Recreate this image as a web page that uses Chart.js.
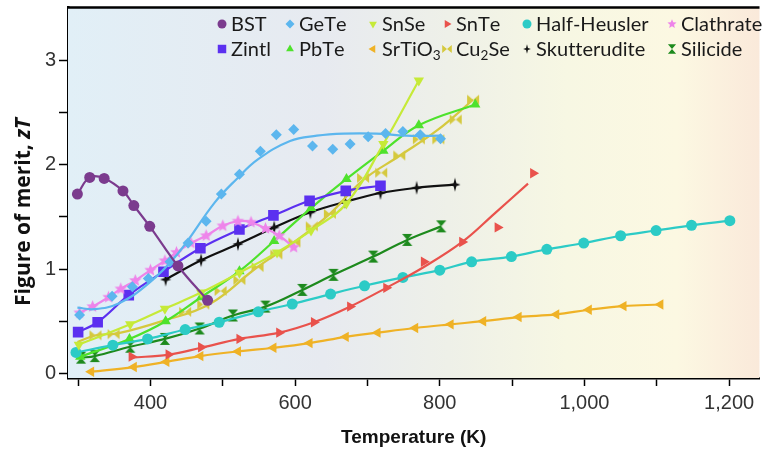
<!DOCTYPE html>
<html>
<head>
<meta charset="utf-8">
<script src="https://cdn.jsdelivr.net/npm/chart.js@4.4.1/dist/chart.umd.min.js"></script>
<style>
  html, body { margin: 0; padding: 0; background: #fff; }
</style>
</head>
<body>
<canvas id="zt" width="767" height="453"></canvas>
<script>
// temperature (K) and zT, one pair of arrays per material family
const bstT  = [299, 316, 336, 362, 377, 399, 438, 479];
const bstZT = [1.72, 1.88, 1.87, 1.75, 1.61, 1.41, 1.03, 0.70];

const geteT  = [302, 347, 375, 397, 427, 452, 477, 498, 523, 552, 574, 598, 624, 652, 676, 701, 725, 749, 773, 801];
const geteZT = [0.56, 0.74, 0.83, 0.91, 1.07, 1.25, 1.46, 1.72, 1.91, 2.13, 2.29, 2.34, 2.18, 2.15, 2.20, 2.27, 2.30, 2.32, 2.29, 2.25];
const geteFitT  = [299, 322, 356, 397, 438, 489, 520, 548, 593, 630, 667, 712, 753, 802];
const geteFitZT = [0.63, 0.615, 0.67, 0.86, 1.15, 1.64, 1.87, 2.05, 2.23, 2.28, 2.30, 2.30, 2.28, 2.28];

const snseT  = [301, 372, 420, 470, 523, 575, 622, 671, 722, 771];
const snseZT = [0.275, 0.47, 0.62, 0.775, 0.965, 1.16, 1.37, 1.63, 2.20, 2.81];

const snteT  = [374, 425, 470, 523, 578, 626, 676, 726, 778, 831, 880, 929];
const snteZT = [0.16, 0.18, 0.25, 0.33, 0.39, 0.49, 0.64, 0.82, 1.07, 1.26, 1.40, 1.92];
const snteFitT  = [374, 425, 470, 523, 578, 626, 676, 726, 778, 831, 876, 922];
const snteFitZT = [0.15, 0.18, 0.245, 0.33, 0.39, 0.49, 0.64, 0.82, 1.02, 1.26, 1.535, 1.82];

const hhT  = [297, 348, 396, 448, 495, 549, 596, 649, 696, 749, 800, 844, 899, 948, 999, 1050, 1099, 1148, 1201];
const hhZT = [0.20, 0.27, 0.33, 0.42, 0.49, 0.59, 0.665, 0.76, 0.84, 0.92, 0.99, 1.07, 1.12, 1.19, 1.25, 1.32, 1.37, 1.42, 1.465];

const clathT  = [302, 320, 342, 359, 379, 400, 420, 436, 456, 477, 500, 521, 539, 559, 578, 598];
const clathZT = [0.58, 0.64, 0.73, 0.81, 0.89, 0.99, 1.08, 1.16, 1.25, 1.32, 1.415, 1.46, 1.45, 1.39, 1.32, 1.21];

const zintlT  = [300, 327, 370, 418, 469, 523, 570, 620, 670, 718];
const zintlZT = [0.395, 0.49, 0.75, 0.975, 1.20, 1.38, 1.515, 1.655, 1.75, 1.80];

const pbteT  = [303, 371, 421, 470, 523, 571, 622, 671, 722, 771, 849];
const pbteZT = [0.16, 0.33, 0.50, 0.73, 0.98, 1.27, 1.585, 1.865, 2.135, 2.38, 2.58];

const stoT  = [318, 377, 422, 469, 521, 570, 620, 670, 714, 766, 815, 860, 909, 961, 1006, 1054, 1105];
const stoZT = [0.015, 0.06, 0.11, 0.165, 0.21, 0.245, 0.29, 0.35, 0.39, 0.435, 0.47, 0.50, 0.54, 0.565, 0.61, 0.645, 0.66];

const cuseT  = [324, 349, 448, 473, 497, 523, 548, 574, 599, 623, 648, 694, 719, 744, 771, 798, 822, 846];
const cuseZT = [0.365, 0.375, 0.59, 0.66, 0.79, 0.895, 1.02, 1.14, 1.255, 1.41, 1.53, 1.875, 1.925, 2.09, 2.245, 2.245, 2.435, 2.625];
const cuseFitT  = [299, 325, 356, 418, 482, 548, 598, 648, 694, 744, 798, 846];
const cuseFitZT = [0.30, 0.365, 0.385, 0.505, 0.665, 1.02, 1.255, 1.53, 1.855, 2.085, 2.34, 2.625];

const skutT  = [421, 470, 521, 571, 621, 669, 718, 768, 821];
const skutZT = [0.90, 1.085, 1.24, 1.40, 1.545, 1.645, 1.73, 1.78, 1.81];

const siliT  = [304, 323, 372, 420, 468, 514, 559, 610, 653, 708, 755, 802];
const siliZT = [0.15, 0.165, 0.255, 0.33, 0.43, 0.555, 0.64, 0.80, 0.945, 1.12, 1.28, 1.41];

// legend grid (marker centres)
const legendX = [222, 290, 373, 447, 527, 672];
const legendY = [24, 49];

// little canvases for marker shapes Chart.js doesn't have
const shapeCanvas = (r, color, paint) => {
    const c = document.createElement('canvas');
    const s = Math.ceil(r * 2 + 2);
    c.width = s; c.height = s;
    const g = c.getContext('2d');
    g.translate(s / 2, s / 2);
    g.fillStyle = color;
    g.strokeStyle = color;
    paint(g, r);
    return c;
};
const star5 = (g, r) => {
    g.beginPath();
    for (let k = 0; k < 10; k++) {
        const rr = k % 2 ? r * 0.45 : r;
        const a = -Math.PI / 2 + k * Math.PI / 5;
        g.lineTo(Math.cos(a) * rr, Math.sin(a) * rr);
    }
    g.closePath(); g.fill();
};
const star4 = (g, r) => {
    g.beginPath();
    const pts = [[0, -r], [r * 0.2, -r * 0.2], [r * 0.8, 0], [r * 0.2, r * 0.2], [0, r], [-r * 0.2, r * 0.2], [-r * 0.8, 0], [-r * 0.2, -r * 0.2]];
    pts.forEach(p => g.lineTo(p[0], p[1]));
    g.closePath(); g.fill();
};
const bowtieH = (g, r) => {
    g.beginPath();
    g.moveTo(-r, -r * 0.85); g.lineTo(0, 0); g.lineTo(-r, r * 0.85); g.closePath();
    g.moveTo(r, -r * 0.85); g.lineTo(0, 0); g.lineTo(r, r * 0.85); g.closePath();
    g.fill();
};
const bowtieV = (g, r) => {
    g.beginPath();
    g.moveTo(-r * 0.85, -r); g.lineTo(0, 0); g.lineTo(r * 0.85, -r); g.closePath();
    g.moveTo(-r * 0.85, r); g.lineTo(0, 0); g.lineTo(r * 0.85, r); g.closePath();
    g.fill();
};

// order here = legend order (two rows of six)
const materials = [
    {label: 'BST', t: bstT, z: bstZT, color: '#7B3B8E', style: 'circle', r: 5.5},
    {label: 'GeTe', t: geteT, z: geteZT, fitT: geteFitT, fitZ: geteFitZT, color: '#5CB6EE', style: 'rectRot', r: 5.5},
    {label: 'SnSe', t: snseT, z: snseZT, color: '#C6EA38', style: 'triangle', rot: 180, r: 6},
    {label: 'SnTe', t: snteT, z: snteZT, fitT: snteFitT, fitZ: snteFitZT, color: '#E9524C', style: 'triangle', rot: 90, r: 6},
    {label: 'Half-Heusler', t: hhT, z: hhZT, color: '#2CCBC6', style: 'circle', r: 5.5},
    {label: 'Clathrate', t: clathT, z: clathZT, color: '#EE84EA', paint: star5, r: 6.5},
    {label: 'Zintl', t: zintlT, z: zintlZT, color: '#5B30F0', style: 'rect', r: 7.5},
    {label: 'PbTe', t: pbteT, z: pbteZT, color: '#4EE22C', style: 'triangle', r: 6},
    {label: 'SrTiO_3', t: stoT, z: stoZT, color: '#EFB226', style: 'triangle', rot: 270, r: 6},
    {label: 'Cu_2Se', t: cuseT, z: cuseZT, fitT: cuseFitT, fitZ: cuseFitZT, color: '#D5C93E', paint: bowtieH, r: 6},
    {label: 'Skutterudite', t: skutT, z: skutZT, color: '#111111', paint: star4, r: 7},
    {label: 'Silicide', t: siliT, z: siliZT, color: '#1D8A1D', paint: bowtieV, r: 6}
];

const zip = (xs, ys) => xs.map((x, i) => ({x: x, y: ys[i]}));

const datasets = [];
materials.forEach(m => {
    const marker = m.paint ? shapeCanvas(m.r, m.color, m.paint) : m.style;
    m.legendMarker = m.paint ? shapeCanvas(4.8, m.color, m.paint) : m.style;
    if (m.fitT) {
        datasets.push({
            label: m.label + ' fit',
            data: zip(m.fitT, m.fitZ),
            showLine: true,
            tension: 0.4,
            borderColor: m.color,
            borderWidth: 2.2,
            pointRadius: 0
        });
    }
    datasets.push({
        label: m.label,
        data: zip(m.t, m.z),
        showLine: !m.fitT,
        tension: 0.4,
        borderColor: m.color,
        borderWidth: 2.2,
        backgroundColor: m.color,
        pointStyle: marker,
        pointRotation: m.rot || 0,
        pointRadius: m.r,
        pointBorderWidth: 0,
        pointBackgroundColor: m.color
    });
});

// blue -> cream -> peach wash behind the plot, plus the top frame line
const backdrop = {
    id: 'backdrop',
    beforeDatasetsDraw(chart) {
        const {ctx, chartArea: a} = chart;
        const grad = ctx.createLinearGradient(a.left, 0, a.right, 0);
        grad.addColorStop(0, '#E1EFF7');
        grad.addColorStop(0.37, '#E7EAF0');
        grad.addColorStop(0.55, '#EEF0E8');
        grad.addColorStop(0.72, '#F7F7E3');
        grad.addColorStop(0.88, '#FCF8E2');
        grad.addColorStop(1, '#FAE9DA');
        ctx.save();
        ctx.fillStyle = grad;
        ctx.fillRect(a.left, a.top, a.right - a.left, a.bottom - a.top);
        ctx.restore();
    },
    afterDraw(chart) {
        const {ctx, chartArea: a} = chart;
        ctx.save();
        ctx.strokeStyle = '#000';
        ctx.lineWidth = 2.5;
        ctx.beginPath();
        ctx.moveTo(a.left, a.top);
        ctx.lineTo(a.right, a.top);
        ctx.stroke();
        ctx.restore();
    }
};

// label text with "_x" meaning subscript x
const drawRichLabel = (ctx, text, x, y, size) => {
    let cx = x;
    for (let i = 0; i < text.length; i++) {
        if (text[i] === '_') {
            i++;
            ctx.font = (size * 0.68) + 'px Lato, "Noto Sans", sans-serif';
            ctx.fillText(text[i], cx, y + size * 0.28);
            cx += ctx.measureText(text[i]).width;
        } else {
            ctx.font = size + 'px Lato, "Noto Sans", sans-serif';
            ctx.fillText(text[i], cx, y);
            cx += ctx.measureText(text[i]).width;
        }
    }
};

const legendGrid = {
    id: 'legendGrid',
    afterDraw(chart) {
        const ctx = chart.ctx;
        ctx.save();
        materials.forEach((m, i) => {
            const x = legendX[i % 6];
            const y = legendY[Math.floor(i / 6)];
            ctx.fillStyle = m.color;
            ctx.strokeStyle = m.color;
            Chart.helpers.drawPoint(ctx, {
                pointStyle: m.legendMarker,
                rotation: m.rot || 0,
                radius: m.style === 'rect' ? 6 : 4.5,
                borderWidth: 0
            }, x, y);
            ctx.fillStyle = '#1a1a1a';
            ctx.textBaseline = 'middle';
            ctx.textAlign = 'left';
            drawRichLabel(ctx, m.label, x + 9, y + 1, 20);
        });
        ctx.restore();
    }
};

// y title needs an italic zT, so it is drawn by hand
const yTitle = {
    id: 'yTitle',
    afterDraw(chart) {
        const ctx = chart.ctx;
        const plain = 'Figure of merit, ';
        const ital = 'zT';
        const upright = 'bold 21px "Open Sans", Lato, sans-serif';
        const slanted = 'italic bold 21px "Open Sans", Lato, sans-serif';
        ctx.save();
        ctx.translate(24, 212);
        ctx.rotate(-Math.PI / 2);
        ctx.fillStyle = '#111';
        ctx.textBaseline = 'middle';
        ctx.textAlign = 'left';
        ctx.font = upright;
        const w1 = ctx.measureText(plain).width;
        ctx.font = slanted;
        const w2 = ctx.measureText(ital).width;
        const start = -(w1 + w2) / 2;
        ctx.font = upright;
        ctx.fillText(plain, start, 0);
        ctx.font = slanted;
        ctx.fillText(ital, start + w1, 0);
        ctx.restore();
    }
};

const tickFont = {family: '"Liberation Sans", Arial, sans-serif', size: 20};

// keep tick labels from pushing the plot area inwards
const noScalePadding = s => {
    s.paddingTop = 0; s.paddingBottom = 0; s.paddingLeft = 0; s.paddingRight = 0;
};

new Chart(document.getElementById('zt'), {
    type: 'scatter',
    data: {datasets: datasets},
    plugins: [backdrop, legendGrid, yTitle],
    options: {
        responsive: false,
        animation: false,
        devicePixelRatio: 1,
        layout: {padding: {top: 4, right: 0, left: 0, bottom: 0}},
        plugins: {legend: {display: false}, tooltip: {enabled: false}},
        scales: {
            x: {
                type: 'linear',
                min: 286,
                max: 1242,
                afterFit: s => { s.height = 75; noScalePadding(s); },
                ticks: {
                    stepSize: 100,
                    includeBounds: false,
                    autoSkip: false,
                    maxRotation: 0,
                    padding: 5,
                    color: '#333',
                    font: tickFont,
                    callback: v => v % 200 === 0 ? v.toLocaleString('en-US') : ''
                },
                grid: {drawOnChartArea: false, drawTicks: true, tickLength: 8, tickColor: '#000', tickWidth: 1.5},
                border: {display: true, color: '#000', width: 2.5},
                title: {
                    display: true,
                    text: 'Temperature (K)',
                    color: '#111',
                    font: {family: '"Liberation Sans", Arial, sans-serif', size: 19, weight: 'bold'},
                    padding: {top: 0, bottom: 4}
                }
            },
            y: {
                min: -0.045,
                max: 3.51,
                afterFit: s => { s.width = 68; noScalePadding(s); },
                afterBuildTicks: s => { s.ticks = s.ticks.filter(t => t.value <= 3.2); },
                ticks: {
                    stepSize: 0.5,
                    includeBounds: false,
                    padding: 3,
                    color: '#333',
                    font: tickFont,
                    callback: v => Number.isInteger(v) ? String(v) : ''
                },
                grid: {drawOnChartArea: false, drawTicks: true, tickLength: 9, tickColor: '#000', tickWidth: 1.5},
                border: {display: true, color: '#000', width: 2.5}
            }
        }
    }
});
</script>
</body>
</html>
